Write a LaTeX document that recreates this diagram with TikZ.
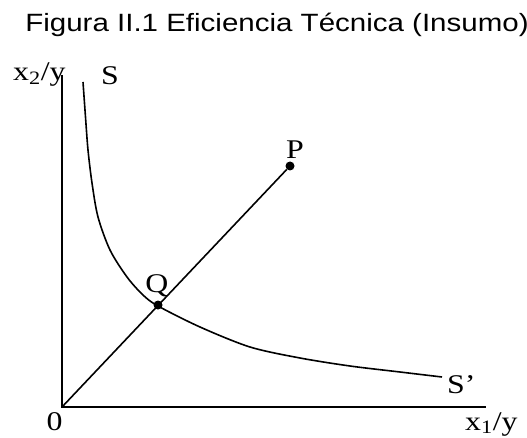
\documentclass[tikz,border=0pt]{standalone}
\usepackage{fontspec}
\setmainfont{Liberation Serif}[FakeStretch=1.18]
\newfontfamily\titlefont{Liberation Sans}[FakeStretch=1.18]
\usetikzlibrary{positioning}
\tikzset{
  axis/.style={line width=2pt},
  isoq/.style={line width=1.6pt,smooth},
  ray/.style={line width=1.6pt},
  dot/.style={circle,fill,inner sep=0pt,minimum size=9pt},
  lbl/.style={inner sep=0pt,font=\fontsize{27}{30}\selectfont},
}

\begin{document}
\begin{tikzpicture}[x=1pt,y=1pt]
\useasboundingbox (-62,-30) rectangle (465,407);
\node[anchor=base,inner sep=0pt,font=\titlefont\fontsize{25}{28}\selectfont] (title) at (215,375) {Figura II.1 Eficiencia Técnica (Insumo)};
% axes
\coordinate (O) at (0,0);
\coordinate (ytop) at (0,332);
\coordinate (xend) at (424,0);
\draw[axis] (ytop) -- (O) -- (xend);
\node[lbl,anchor=base west] (ylab) at (-49,326) {x\textsubscript{2}/y};
\node[lbl,anchor=base west] (xlab) at (403,-23) {x\textsubscript{1}/y};
\node[lbl,anchor=base] (zero) at (-7.5,-23) {0};
% isoquant SS'
\draw[isoq] plot coordinates {(21,325) (23.5,290) (26,257) (30,224) (36,190) (48,157)
  (65,130) (81,112) (96,101) (138,80) (188,60) (238,49) (288,41) (338,35) (380,30)};
\node[lbl,anchor=base west] (S) at (39,322) {S};
\node[lbl,anchor=base west] (Sp) at (385,14) {S’};
% ray through Q to P
\node[dot] (Q) at (96,102) {};
\node[dot] (P) at (228,241) {};
\draw[ray] (O) -- (P);
\node[lbl,anchor=base] (Plab) at (233,248) {P};
\node[lbl,anchor=base] (Qlab) at (95,115) {Q};
\end{tikzpicture}
\end{document}
